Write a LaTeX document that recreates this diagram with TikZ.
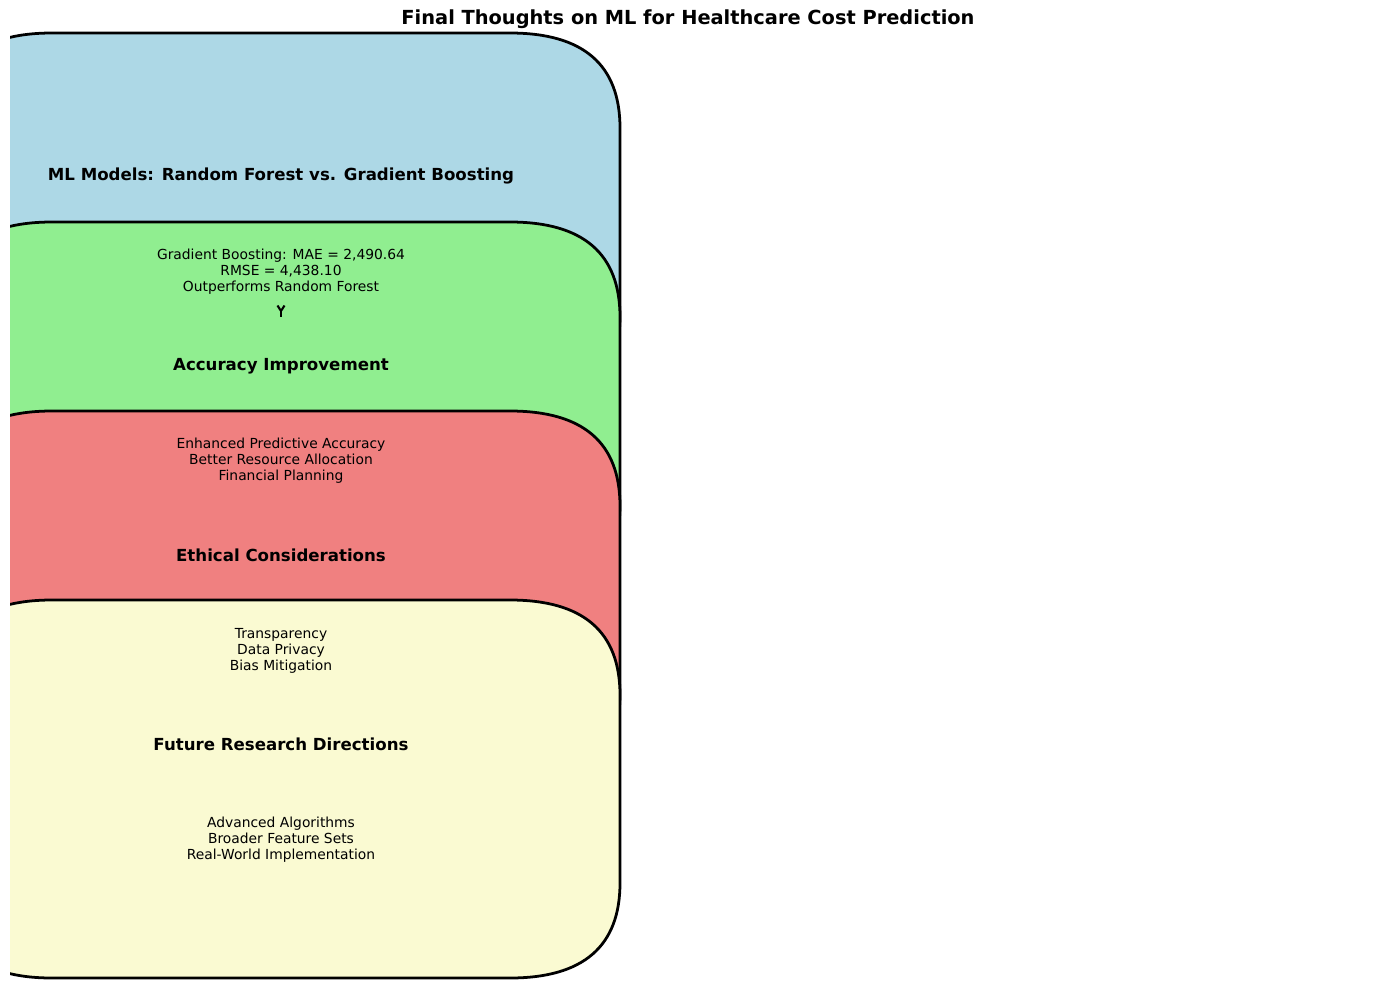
\documentclass[tikz,border=0pt]{standalone}
\usepackage{fontspec}
\setmainfont{DejaVu Sans}
\usepackage{xcolor}
\usepackage{tikz}
\usetikzlibrary{arrows.meta}

\definecolor{mlblue}{HTML}{ADD8E6}
\definecolor{mlgreen}{HTML}{90EE90}
\definecolor{mlcoral}{HTML}{F08080}
\definecolor{mlyellow}{HTML}{FAFAD2}

% panel with soft corners: fill colour, top edge
\newcommand{\roundpanel}[2]{%
\draw[panel,fill=#1] (-58+110,#2) -- (620-110,#2)
  .. controls (620-36.7,#2) and (620,#2+31.7) .. (620,#2+95)
  -- (620,#2+378-95)
  .. controls (620,#2+378-31.7) and (620-36.7,#2+378) .. (620-110,#2+378)
  -- (-58+110,#2+378)
  .. controls (-58+36.7,#2+378) and (-58,#2+378-31.7) .. (-58,#2+378-95)
  -- (-58,#2+95)
  .. controls (-58,#2+31.7) and (-58+36.7,#2) .. cycle;}

\tikzset{
  panel/.style={line width=2pt,draw=black},
  headtext/.style={font=\fontsize{12}{14}\selectfont\bfseries,inner sep=0pt},
  bodytext/.style={font=\fontsize{10}{11.5}\selectfont,align=center,inner sep=0pt},
}

\begin{document}
\begin{tikzpicture}[x=0.01in,y=-0.01in]
\useasboundingbox (0,0) rectangle (1375,989);

\begin{scope}
\clip (10,0) rectangle (1365,980);
\roundpanel{mlblue}{33}
\roundpanel{mlgreen}{222}
\roundpanel{mlcoral}{411}
\roundpanel{mlyellow}{600}
\end{scope}

\node[font=\fontsize{14}{16}\selectfont\bfseries,inner sep=0pt] (title) at (688,19) {Final Thoughts on ML for Healthcare Cost Prediction};

\node[headtext] (models) at (281,176) {ML Models: Random Forest vs. Gradient Boosting};
\node[bodytext] (modelsbody) at (281,272) {Gradient Boosting: MAE = 2,490.64\\RMSE = 4,438.10\\Outperforms Random Forest};

\node[headtext] (accuracy) at (281,366) {Accuracy Improvement};
\node[bodytext] (accuracybody) at (281,461) {Enhanced Predictive Accuracy\\Better Resource Allocation\\Financial Planning};

\node[headtext] (ethics) at (281,555) {Ethical Considerations};
\node[bodytext] (ethicsbody) at (281,651) {Transparency\\Data Privacy\\Bias Mitigation};

\node[headtext] (future) at (281,744) {Future Research Directions};
\node[bodytext] (futurebody) at (281,840) {Advanced Algorithms\\Broader Feature Sets\\Real-World Implementation};

\coordinate (tip) at (281,311);
\coordinate (tail) at (281,317);
\draw[line width=1.5pt] (tip) -- (tail);
\draw[line width=1.5pt,line join=miter] (tip) ++(-3.5,-5.5) -- (tip) -- ++(3.5,-5.5);
\end{tikzpicture}
\end{document}
